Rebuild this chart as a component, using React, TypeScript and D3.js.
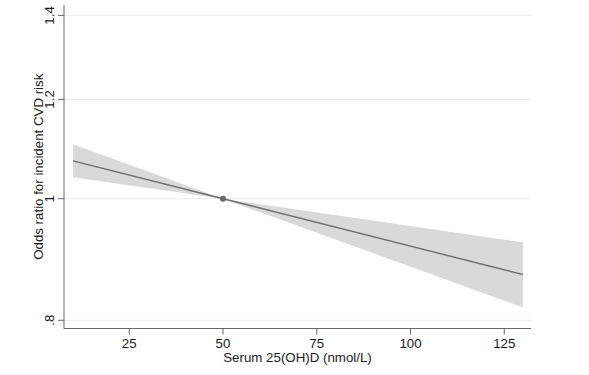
import React from "react";
import * as d3 from "d3";

const xValues = [10, 50, 130];
const orValues = [1.072, 1.0, 0.87];
const lowerValues = [1.04, 1.0, 0.819];
const upperValues = [1.105, 1.0, 0.923];
const refPoint = { x: 50, y: 1.0 };
const xTicks = [25, 50, 75, 100, 125];
const yTicks = [0.8, 1, 1.2, 1.4];
const yTickLabels = [".8", "1", "1.2", "1.4"];

const W = 589;
const H = 375;
const FONT = "'Liberation Sans', Arial, Helvetica, sans-serif";
const FS = 13.3;

export default function App() {
  const x = d3.scaleLinear().domain([7.6, 132.13]).range([64, 531]);
  const y = d3.scaleLog().domain([0.788, 1.427]).range([328.5, 5]);

  const rows = xValues.map((v, i) => ({
    x: v,
    or: orValues[i],
    lo: lowerValues[i],
    hi: upperValues[i],
  }));

  const area = d3
    .area<any>()
    .x((d) => x(d.x))
    .y0((d) => y(d.lo))
    .y1((d) => y(d.hi))(rows) as string;

  const line = d3
    .line<any>()
    .x((d) => x(d.x))
    .y((d) => y(d.or))(rows) as string;

  const [x0, x1] = x.range();
  const [yb, yt] = y.range();

  return (
    <svg
      width={W}
      height={H}
      style={{ position: "absolute", left: 0, top: 0, background: "#fff" }}
      fontFamily={FONT}
    >
      {yTicks.map((t) => (
        <line
          key={"g" + t}
          x1={x0}
          x2={x1}
          y1={y(t)}
          y2={y(t)}
          stroke="#eaeaea"
          strokeWidth={1}
        />
      ))}
      <path d={area} fill="#d9d9d9" stroke="none" />
      <path d={line} fill="none" stroke="#6e6e6e" strokeWidth={1.4} />
      <circle cx={x(refPoint.x)} cy={y(refPoint.y)} r={3} fill="#666" />

      {/* y axis */}
      <line x1={x0} x2={x0} y1={yt} y2={yb} stroke="#666" strokeWidth={1} />
      {yTicks.map((t, i) => (
        <g key={"yt" + t}>
          <line x1={x0 - 6} x2={x0} y1={y(t)} y2={y(t)} stroke="#666" />
          <text
            transform={`translate(54,${y(t)}) rotate(-90)`}
            textAnchor="middle"
            fontSize={FS}
            fill="#1a1a1a"
          >
            {yTickLabels[i]}
          </text>
        </g>
      ))}
      <text
        transform={`translate(43,${(yt + yb) / 2}) rotate(-90)`}
        textAnchor="middle"
        fontSize={FS}
        fill="#1a1a1a"
      >
        Odds ratio for incident CVD risk
      </text>

      {/* x axis */}
      <line x1={x0} x2={x1} y1={yb} y2={yb} stroke="#666" strokeWidth={1} />
      {xTicks.map((t) => (
        <g key={"xt" + t}>
          <line x1={x(t)} x2={x(t)} y1={yb} y2={yb + 6} stroke="#666" />
          <text x={x(t)} y={348} textAnchor="middle" fontSize={FS} fill="#1a1a1a">
            {t}
          </text>
        </g>
      ))}
      <text
        x={(x0 + x1) / 2}
        y={362}
        textAnchor="middle"
        fontSize={FS}
        fill="#1a1a1a"
      >
        Serum 25(OH)D (nmol/L)
      </text>
    </svg>
  );
}
